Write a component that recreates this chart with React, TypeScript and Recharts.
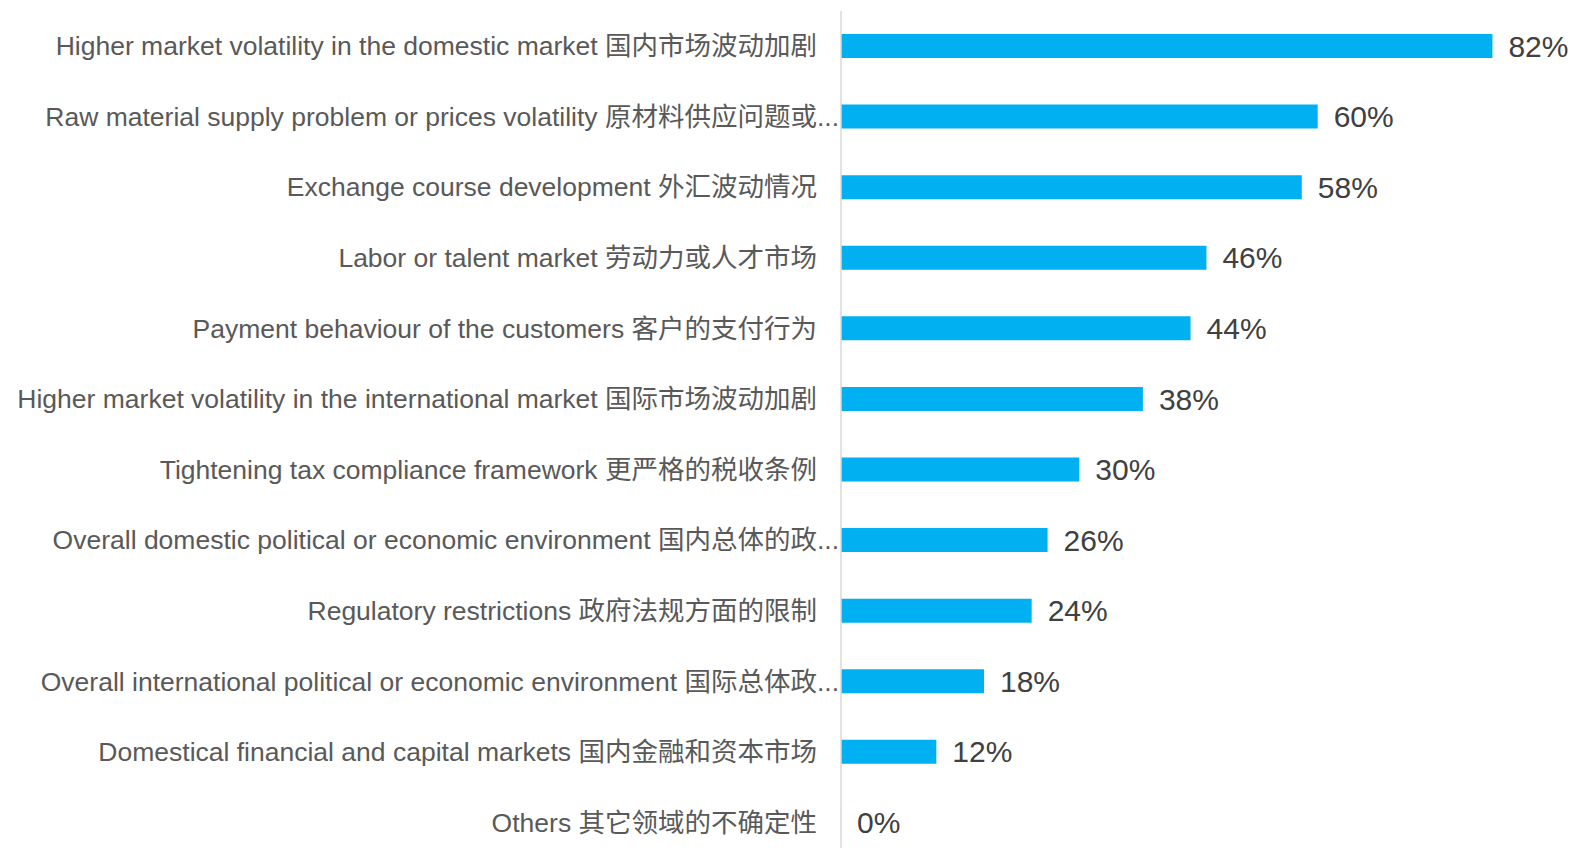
import { BarChart, Bar, XAxis, YAxis, LabelList } from "recharts";

const categories = [
    "Higher market volatility in the domestic market 国内市场波动加剧",
    "Raw material supply problem or prices volatility 原材料供应问题或...",
    "Exchange course development 外汇波动情况",
    "Labor or talent market 劳动力或人才市场",
    "Payment behaviour of the customers 客户的支付行为",
    "Higher market volatility in the international market 国际市场波动加剧",
    "Tightening tax compliance framework 更严格的税收条例",
    "Overall domestic political or economic environment 国内总体的政...",
    "Regulatory restrictions 政府法规方面的限制",
    "Overall international political or economic environment 国际总体政...",
    "Domestical financial and capital markets 国内金融和资本市场",
    "Others 其它领域的不确定性",
];

const shares = [82, 60, 58, 46, 44, 38, 30, 26, 24, 18, 12, 0];

const data = categories.map((name, i) => ({ name, value: shares[i] }));

const FONT = "'Liberation Sans', Arial, 'Noto Sans CJK SC', sans-serif";

const CategoryTick = (props: any) => {
    const { x, y, payload } = props;
    // truncated labels spill a bit further right, like in the source
    const dx = String(payload.value).endsWith("...") ? 22 : 0;
    return (
        <text
            x={x + dx}
            y={y}
            dy={9}
            textAnchor="end"
            fill="#595959"
            fontSize={26.5}
            fontFamily={FONT}
        >
            {payload.value}
        </text>
    );
};

export default function App() {
    return (
        <BarChart
            width={1561}
            height={850}
            data={data}
            layout="vertical"
            margin={{ top: 3, right: 13, bottom: 0, left: 0 }}
        >
            <XAxis type="number" domain={[0, 90]} hide />
            <YAxis
                type="category"
                dataKey="name"
                width={833}
                axisLine={{ stroke: "#D9D9D9", strokeWidth: 1.5 }}
                tickLine={false}
                tickMargin={18}
                interval={0}
                tick={<CategoryTick />}
            />
            <Bar
                dataKey="value"
                fill="#00B0F0"
                barSize={24}
                minPointSize={0.1}
                isAnimationActive={false}
            >
                <LabelList
                    dataKey="value"
                    position="right"
                    offset={16}
                    formatter={(v: any) => `${v}%`}
                    fill="#404040"
                    fontSize={30}
                    fontFamily={FONT}
                />
            </Bar>
        </BarChart>
    );
}
